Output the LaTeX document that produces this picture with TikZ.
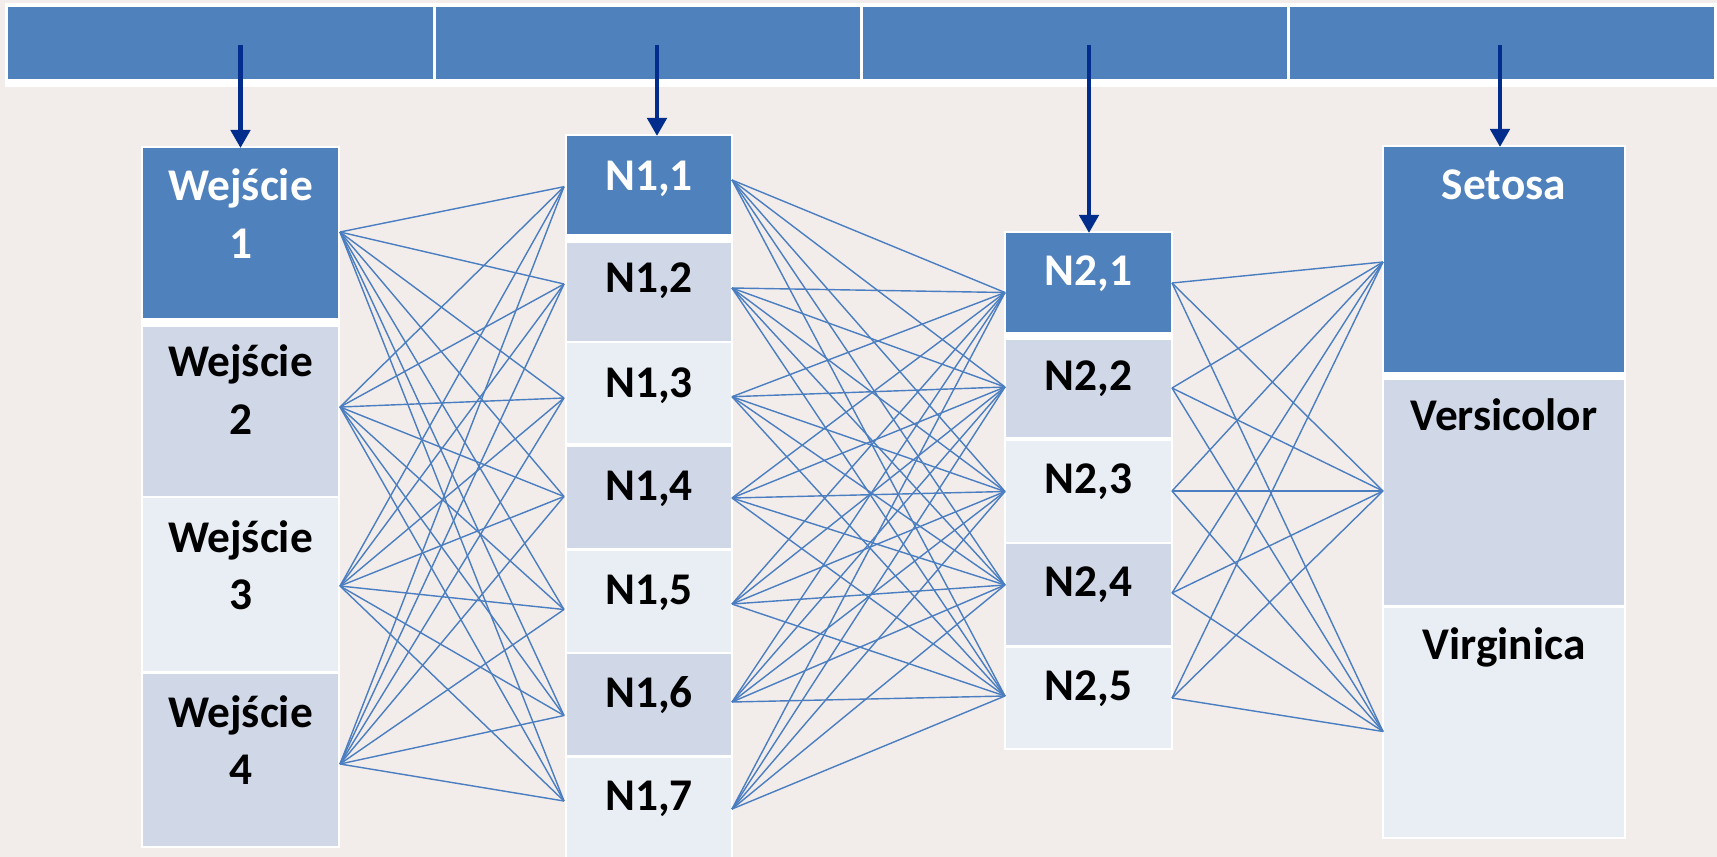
\documentclass[tikz,border=0pt]{standalone}
\usepackage{fontspec}
\setmainfont{Carlito}
\usetikzlibrary{calc,arrows.meta}

\definecolor{canvas}{RGB}{242,237,235}
\definecolor{header}{RGB}{79,129,189}
\definecolor{bandA}{RGB}{208,216,232}
\definecolor{bandB}{RGB}{233,237,244}
\definecolor{wire}{RGB}{74,126,192}
\definecolor{navy}{RGB}{2,45,140}

\tikzset{
  cellbox/.style={rectangle, draw=none, inner sep=0pt, outer sep=0pt},
  celltext/.style={font=\bfseries\fontsize{12.9}{15}\selectfont, anchor=base, inner sep=0pt},
  wires/.style={draw=wire, line width=0.4pt},
  feed/.style={draw=navy, line width=1.35pt, -{Triangle[width=0.19cm,length=0.18cm]}},
  tableframe/.style={fill=white},
}

% one table cell: name, x1, y1, x2, y2, fill
\newcommand\tabcell[6]{%
  \node[cellbox, fill=#6, minimum width={(#4-#2)*0.01cm}, minimum height={(#5-#3)*0.01cm}]
    (#1) at ({(#2+#4)/2},{(#3+#5)/2}) {};}
% text line inside a cell: name, cell, baseline offset from cell top, colour, text
\newcommand\celltxt[5]{%
  \node[celltext, text=#4] (#1) at ($(#2.north)+(0,#3)$) {#5};}

\begin{document}
\begin{tikzpicture}[x=0.01cm, y=-0.01cm]
\fill[canvas] (0,0) rectangle (1717,857);
\useasboundingbox (0,0) rectangle (1717,857);

% ---------- top header bar ----------
\fill[tableframe] (5,3) rectangle (1717,87);
\tabcell{t1}{8}{7}{433}{79}{header}
\tabcell{t2}{436}{7}{860}{79}{header}
\tabcell{t3}{863}{7}{1287}{79}{header}
\tabcell{t4}{1290}{7}{1714}{79}{header}

% ---------- input column ----------
\fill[tableframe] (141,146) rectangle (340,848);
\tabcell{w1}{143}{148}{338}{318}{header}
\tabcell{w2}{143}{327}{338}{496}{bandA}
\tabcell{w3}{143}{498}{338}{671}{bandB}
\tabcell{w4}{143}{674}{338}{846}{bandA}

% ---------- first hidden layer ----------
\fill[tableframe] (565,134) rectangle (733,870);
\tabcell{n11}{567}{136}{731}{234}{header}
\tabcell{n12}{567}{243}{731}{341}{bandA}
\tabcell{n13}{567}{343}{731}{443}{bandB}
\tabcell{n14}{567}{447}{731}{548}{bandA}
\tabcell{n15}{567}{551}{731}{652}{bandB}
\tabcell{n16}{567}{654}{731}{755}{bandA}
\tabcell{n17}{567}{758}{731}{868}{bandB}

% ---------- second hidden layer ----------
\fill[tableframe] (1004,231) rectangle (1173,750);
\tabcell{n21}{1006}{233}{1171}{332}{header}
\tabcell{n22}{1006}{340}{1171}{437}{bandA}
\tabcell{n23}{1006}{441}{1171}{542}{bandB}
\tabcell{n24}{1006}{544}{1171}{645}{bandA}
\tabcell{n25}{1006}{648}{1171}{748}{bandB}

% ---------- output column ----------
\fill[tableframe] (1382,145) rectangle (1626,839);
\tabcell{o1}{1384}{147}{1624}{372}{header}
\tabcell{o2}{1384}{380}{1624}{605}{bandA}
\tabcell{o3}{1384}{608}{1624}{837}{bandB}

% ---------- ports ----------
\path (w1.east) ++(2,-1) coordinate (w1o);
\path (w2.east) ++(2,-4.5) coordinate (w2o);
\path (w3.east) ++(2,1.5) coordinate (w3o);
\path (w4.east) ++(2,4) coordinate (w4o);

\path (n11.west) ++(-3,1.7) coordinate (n11i);
\path (n12.west) ++(-3,-8) coordinate (n12i);
\path (n13.west) ++(-3,5) coordinate (n13i);
\path (n14.west) ++(-3,-1) coordinate (n14i);
\path (n15.west) ++(-3,8) coordinate (n15i);
\path (n16.west) ++(-3,11) coordinate (n16i);
\path (n17.west) ++(-3,-12) coordinate (n17i);

\path (n11.east) ++(1,-5) coordinate (n11o);
\path (n12.east) ++(1,-4) coordinate (n12o);
\path (n13.east) ++(1,3.7) coordinate (n13o);
\path (n14.east) ++(1,0.5) coordinate (n14o);
\path (n15.east) ++(1,2.5) coordinate (n15o);
\path (n16.east) ++(1,-2.5) coordinate (n16o);
\path (n17.east) ++(1,-4) coordinate (n17o);

\path (n21.west) ++(-1,10) coordinate (n21i);
\path (n22.west) ++(-1,-1.5) coordinate (n22i);
\path (n23.west) ++(-1,0) coordinate (n23i);
\path (n24.west) ++(-1,-9.5) coordinate (n24i);
\path (n25.west) ++(-1,-2) coordinate (n25i);

\path (n21.east) ++(1,0.5) coordinate (n21o);
\path (n22.east) ++(1,-0.5) coordinate (n22o);
\path (n23.east) ++(1,-0.5) coordinate (n23o);
\path (n24.east) ++(1,-1.5) coordinate (n24o);
\path (n25.east) ++(1,0) coordinate (n25o);

\path (o1.west) ++(-1,2.5) coordinate (o1i);
\path (o2.west) ++(-1,-1.5) coordinate (o2i);
\path (o3.west) ++(-1,9) coordinate (o3i);

% ---------- fully connected wiring ----------
\foreach \a in {w1o,w2o,w3o,w4o}
  \foreach \b in {n11i,n12i,n13i,n14i,n15i,n16i,n17i}
    \draw[wires] (\a) -- (\b);
\foreach \a in {n11o,n12o,n13o,n14o,n15o,n16o,n17o}
  \foreach \b in {n21i,n22i,n23i,n24i,n25i}
    \draw[wires] (\a) -- (\b);
\foreach \a in {n21o,n22o,n23o,n24o,n25o}
  \foreach \b in {o1i,o2i,o3i}
    \draw[wires] (\a) -- (\b);

% ---------- labels ----------
\celltxt{w1a}{w1}{52.7}{white}{Wejście}
\celltxt{w1b}{w1}{110.3}{white}{1}
\celltxt{w2a}{w2}{49.5}{black}{Wejście}
\celltxt{w2b}{w2}{107}{black}{2}
\celltxt{w3a}{w3}{54}{black}{Wejście}
\celltxt{w3b}{w3}{111.5}{black}{3}
\celltxt{w4a}{w4}{53}{black}{Wejście}
\celltxt{w4b}{w4}{110.5}{black}{4}

\celltxt{n11t}{n11}{54}{white}{N1,1}
\celltxt{n12t}{n12}{49}{black}{N1,2}
\celltxt{n13t}{n13}{54}{black}{N1,3}
\celltxt{n14t}{n14}{53}{black}{N1,4}
\celltxt{n15t}{n15}{53}{black}{N1,5}
\celltxt{n16t}{n16}{53}{black}{N1,6}
\celltxt{n17t}{n17}{52}{black}{N1,7}

\celltxt{n21t}{n21}{52}{white}{N2,1}
\celltxt{n22t}{n22}{50}{black}{N2,2}
\celltxt{n23t}{n23}{52}{black}{N2,3}
\celltxt{n24t}{n24}{52.5}{black}{N2,4}
\celltxt{n25t}{n25}{52}{black}{N2,5}

\celltxt{o1t}{o1}{52.3}{white}{Setosa}
\celltxt{o2t}{o2}{50.7}{black}{Versicolor}
\celltxt{o3t}{o3}{51.3}{black}{Virginica}

% ---------- feed arrows from the header bar ----------
\coordinate (a1) at (240.5,45);
\coordinate (a2) at (657,45);
\coordinate (a3) at (1089,45);
\coordinate (a4) at (1500,45);
\draw[feed] (a1) -- (a1 |- w1.north);
\draw[feed] (a2) -- (a2 |- n11.north);
\draw[feed] (a3) -- (a3 |- n21.north);
\draw[feed] (a4) -- (a4 |- o1.north);
\end{tikzpicture}
\end{document}
